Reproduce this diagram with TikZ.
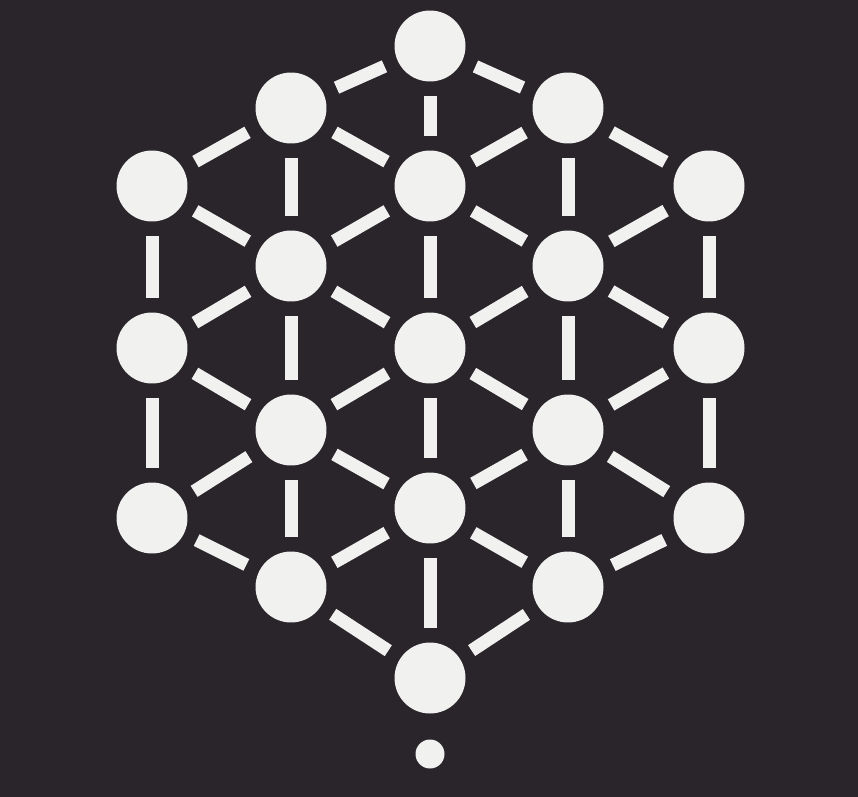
\documentclass[tikz,border=0pt]{standalone}
\usepackage{tikz}
\definecolor{bgdark}{HTML}{29252A}
\definecolor{ball}{HTML}{F1F1EF}

\begin{document}
\begin{tikzpicture}[
  x=0.02cm, y=-0.02cm,
  ball/.style={circle, fill=ball, minimum size=1.42cm, inner sep=0pt},
  dot/.style={circle, fill=ball, minimum size=0.58cm, inner sep=0pt},
  edge/.style={draw=ball, line width=0.26cm, shorten >=0.28cm, shorten <=0.28cm}
]

\fill [bgdark] (0,0) rectangle (858,797);
\useasboundingbox (0,0) rectangle (858,797);

% left column
\node (l1) [ball] at (152,186) {};
\node (l2) [ball] at (152,348) {};
\node (l3) [ball] at (152,518) {};
% inner left column
\node (a1) [ball] at (291,108) {};
\node (a2) [ball] at (291,266) {};
\node (a3) [ball] at (291,430) {};
\node (a4) [ball] at (291,587) {};
% middle column
\node (m1) [ball] at (430,46) {};
\node (m2) [ball] at (430,186) {};
\node (m3) [ball] at (430,348) {};
\node (m4) [ball] at (430,508) {};
\node (m5) [ball] at (430,678) {};
% inner right column
\node (b1) [ball] at (568,108) {};
\node (b2) [ball] at (568,266) {};
\node (b3) [ball] at (568,430) {};
\node (b4) [ball] at (568,587) {};
% right column
\node (r1) [ball] at (709,186) {};
\node (r2) [ball] at (709,348) {};
\node (r3) [ball] at (709,518) {};

\node (tail) [dot] at (430,754) {};

\draw [edge] (m1) -- (a1);
\draw [edge] (m1) -- (b1);
\draw [edge] (m1) -- (m2);
\draw [edge] (a1) -- (l1);
\draw [edge] (a1) -- (m2);
\draw [edge] (a1) -- (a2);
\draw [edge] (b1) -- (m2);
\draw [edge] (b1) -- (r1);
\draw [edge] (b1) -- (b2);
\draw [edge] (l1) -- (a2);
\draw [edge] (l1) -- (l2);
\draw [edge] (m2) -- (a2);
\draw [edge] (m2) -- (b2);
\draw [edge] (m2) -- (m3);
\draw [edge] (r1) -- (b2);
\draw [edge] (r1) -- (r2);
\draw [edge] (a2) -- (l2);
\draw [edge] (a2) -- (m3);
\draw [edge] (a2) -- (a3);
\draw [edge] (b2) -- (m3);
\draw [edge] (b2) -- (r2);
\draw [edge] (b2) -- (b3);
\draw [edge] (l2) -- (a3);
\draw [edge] (l2) -- (l3);
\draw [edge] (m3) -- (a3);
\draw [edge] (m3) -- (b3);
\draw [edge] (m3) -- (m4);
\draw [edge] (r2) -- (b3);
\draw [edge] (r2) -- (r3);
\draw [edge] (a3) -- (l3);
\draw [edge] (a3) -- (m4);
\draw [edge] (a3) -- (a4);
\draw [edge] (b3) -- (m4);
\draw [edge] (b3) -- (r3);
\draw [edge] (b3) -- (b4);
\draw [edge] (l3) -- (a4);
\draw [edge] (m4) -- (a4);
\draw [edge] (m4) -- (b4);
\draw [edge] (m4) -- (m5);
\draw [edge] (r3) -- (b4);
\draw [edge] (a4) -- (m5);
\draw [edge] (b4) -- (m5);

\end{tikzpicture}
\end{document}
